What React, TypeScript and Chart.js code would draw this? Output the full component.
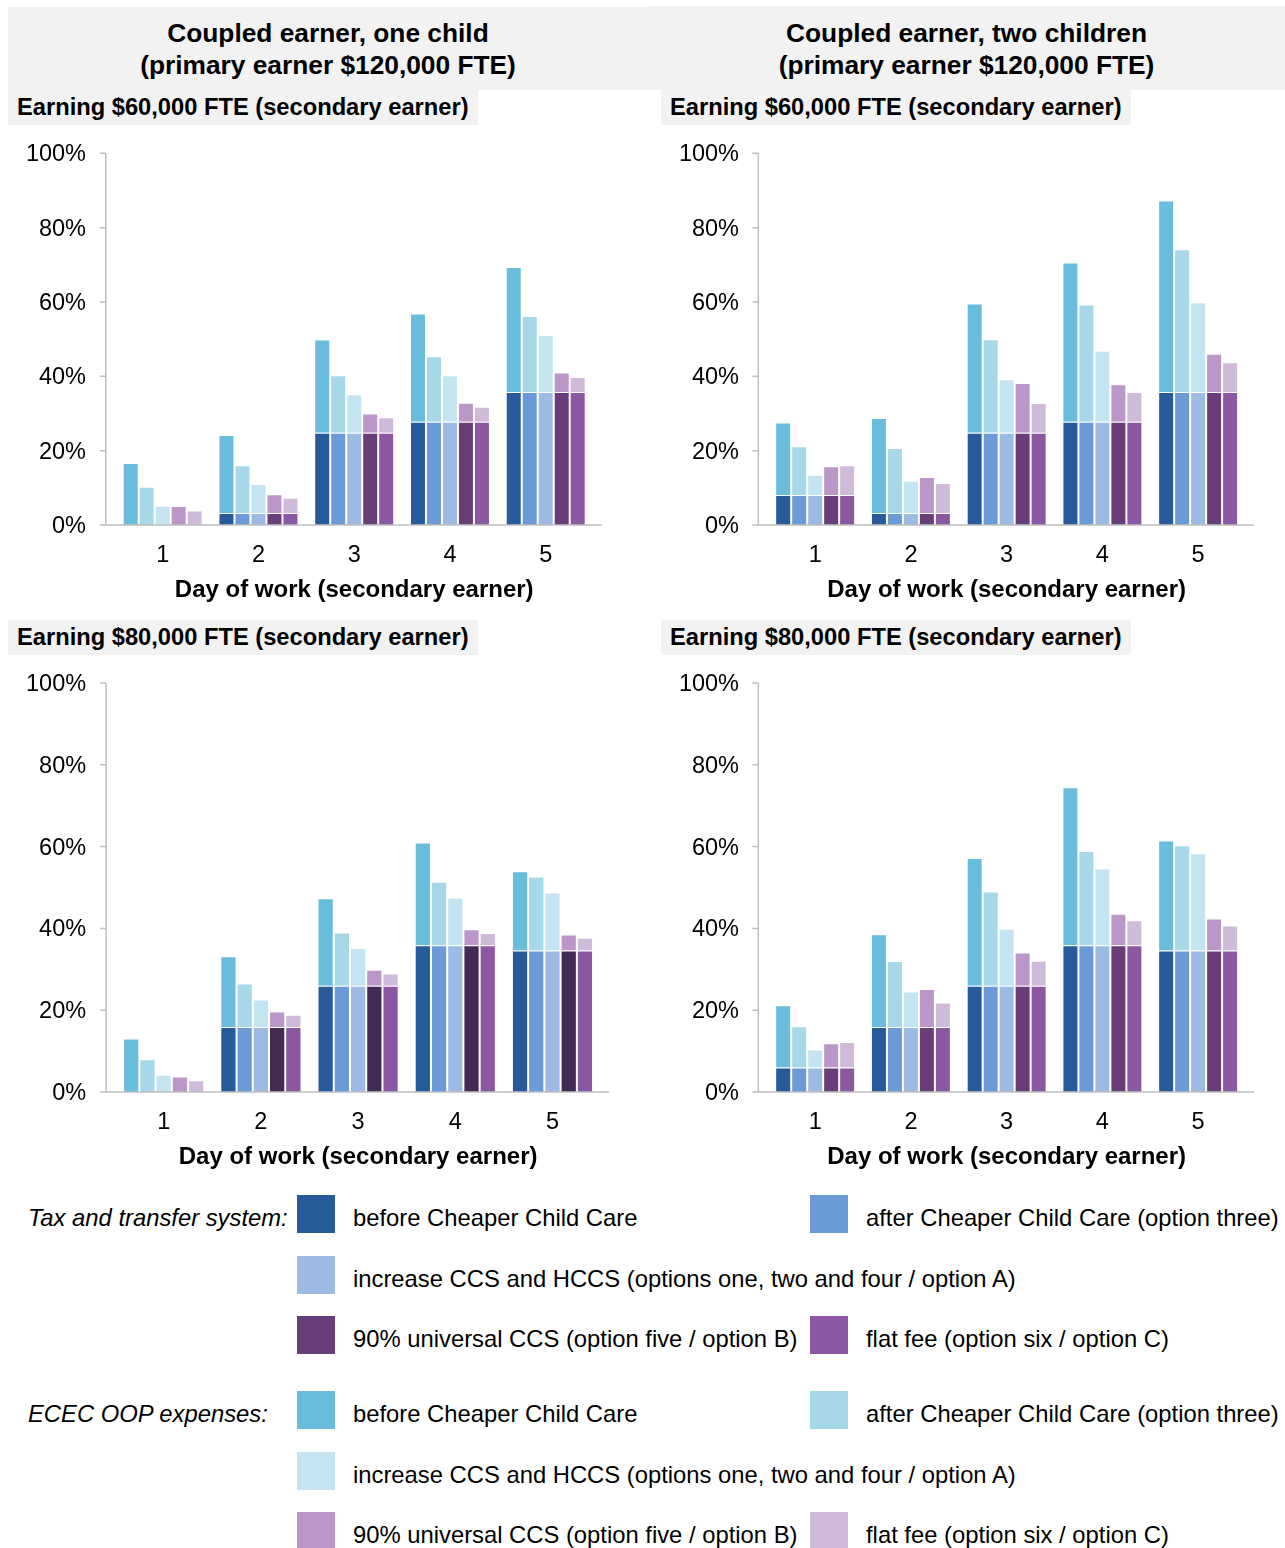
import React, { useEffect, useRef } from "react";
import { Chart, registerables } from "chart.js";

Chart.register(...registerables);

// ---------- data ----------
const days = ["1", "2", "3", "4", "5"];
const yTickValues = [0, 20, 40, 60, 80, 100];

const scenarioNames = [
  "before Cheaper Child Care",
  "after Cheaper Child Care (option three)",
  "increase CCS and HCCS (options one, two and four / option A)",
  "90% universal CCS (option five / option B)",
  "flat fee (option six / option C)",
];

// Panel 1: one child, secondary earner $60,000
const taxOneChild60 = [0, 3.2, 24.8, 27.8, 35.8];
const oopOneChild60Before = [16.7, 21.0, 25.1, 29.1, 33.6];
const oopOneChild60After = [10.3, 12.9, 15.5, 17.6, 20.4];
const oopOneChild60Increase = [5.2, 7.8, 10.4, 12.5, 15.3];
const oopOneChild60Universal = [5.1, 5.1, 5.2, 5.1, 5.2];
const oopOneChild60Flat = [3.9, 4.1, 4.2, 4.0, 4.0];

// Panel 2: two children, secondary earner $60,000
const taxTwoChildren60 = [8.1, 3.2, 24.8, 27.8, 35.8];
const oopTwoChildren60Before = [19.5, 25.6, 34.8, 42.8, 51.5];
const oopTwoChildren60After = [13.1, 17.5, 25.2, 31.5, 38.4];
const oopTwoChildren60Increase = [5.4, 8.7, 14.4, 19.1, 24.1];
const oopTwoChildren60Universal = [7.7, 9.7, 13.4, 10.1, 10.3];
const oopTwoChildren60Flat = [8.0, 8.1, 8.0, 8.0, 8.0];

// Panel 3: one child, secondary earner $80,000
const taxOneChild80 = [0, 15.9, 26.0, 35.9, 34.6];
const oopOneChild80Before = [13.1, 17.3, 21.4, 25.1, 19.4];
const oopOneChild80After = [8.0, 10.6, 13.0, 15.5, 18.1];
const oopOneChild80Increase = [4.2, 6.7, 9.2, 11.6, 14.2];
const oopOneChild80Universal = [3.8, 3.8, 3.9, 3.9, 3.9];
const oopOneChild80Flat = [2.9, 3.0, 3.0, 3.0, 3.1];

// Panel 4: two children, secondary earner $80,000
const taxTwoChildren80 = [6.0, 15.9, 26.0, 35.9, 34.6];
const oopTwoChildren80Before = [15.2, 22.7, 31.2, 38.6, 26.9];
const oopTwoChildren80After = [10.1, 16.1, 23.0, 23.0, 25.7];
const oopTwoChildren80Increase = [4.4, 8.7, 13.9, 18.8, 23.8];
const oopTwoChildren80Universal = [5.9, 9.3, 8.1, 7.7, 7.8];
const oopTwoChildren80Flat = [6.2, 6.0, 6.1, 6.1, 6.1];

// ---------- styles ----------
const FONT = '"Liberation Sans", Arial, Helvetica, sans-serif';
const taxColors = ["#265A9A", "#6A9BD8", "#9CBAE4", "#673D7A", "#8B56A2"];
const taxColorsDark = ["#265A9A", "#6A9BD8", "#9CBAE4", "#432A52", "#8B56A2"];
const oopColors = ["#68BDDC", "#A6D8EA", "#C3E4F0", "#BB96C8", "#D0BADA"];
const HEADER_BG = "#F2F2F2";
const AXIS_COLOR = "#BFBFBF";

const axisLinesPlugin = {
  id: "axisLines",
  afterDatasetsDraw(chart: any) {
    const { ctx, chartArea, scales } = chart;
    const y = scales.y;
    const ax = chartArea.left - 9;
    ctx.save();
    ctx.strokeStyle = AXIS_COLOR;
    ctx.lineWidth = 1.5;
    ctx.beginPath();
    ctx.moveTo(ax, y.getPixelForValue(100));
    ctx.lineTo(ax, chartArea.bottom);
    y.ticks.forEach((t: any) => {
      const py = y.getPixelForValue(t.value);
      ctx.moveTo(ax - 6, py);
      ctx.lineTo(ax, py);
    });
    ctx.moveTo(ax - 6, chartArea.bottom);
    ctx.lineTo(chartArea.right + 8, chartArea.bottom);
    ctx.stroke();
    ctx.restore();
  },
};

type PanelProps = {
  left: number;
  top: number;
  width: number;
  height: number;
  padTop: number;
  padRight: number;
  yWidth: number;
  tickPad: number;
  tax: number[];
  oop: number[][];
  tColors: string[];
};

function Panel(p: PanelProps) {
  const ref = useRef<HTMLCanvasElement>(null);
  useEffect(() => {
    if (!ref.current) return;
    const datasets: any[] = [];
    for (let i = 0; i < 5; i++) {
      datasets.push({
        label: "Tax and transfer system: " + scenarioNames[i],
        data: p.tax,
        backgroundColor: p.tColors[i],
        borderColor: "rgba(255,255,255,0.35)",
        borderWidth: 1,
        stack: "s" + i,
        categoryPercentage: 0.835,
        barPercentage: 1,
      });
      datasets.push({
        label: "ECEC OOP expenses: " + scenarioNames[i],
        data: p.oop[i],
        backgroundColor: oopColors[i],
        borderColor: "rgba(255,255,255,0.35)",
        borderWidth: 1,
        stack: "s" + i,
        categoryPercentage: 0.835,
        barPercentage: 1,
      });
    }
    const chart = new Chart(ref.current, {
      type: "bar",
      data: { labels: days, datasets },
      options: {
        animation: false,
        responsive: false,
        maintainAspectRatio: false,
        layout: { padding: { top: p.padTop, right: p.padRight, left: 0, bottom: 0 } },
        plugins: { legend: { display: false }, tooltip: { enabled: false } },
        scales: {
          x: {
            stacked: true,
            grid: { display: false, drawTicks: true, tickLength: 16.6 },
            border: { display: false },
            ticks: { color: "#000", font: { family: FONT, size: 23.5 }, padding: 0 },
            title: {
              display: true,
              text: "Day of work (secondary earner)",
              color: "#000",
              font: { family: FONT, size: 24, weight: "bold" },
              padding: { top: 0, bottom: 8.4 },
            },
            afterFit(s: any) {
              s.height = 88;
            },
          },
          y: {
            stacked: true,
            min: 0,
            max: 100,
            grid: { display: false, drawTicks: true, tickLength: p.tickPad },
            border: { display: false },
            ticks: {
              stepSize: 20,
              color: "#000",
              font: { family: FONT, size: 23.5 },
              padding: 0,
              labelOffset: 1.5,
              callback: (v: any) => (yTickValues.includes(Number(v)) ? v + "%" : ""),
            },
            afterFit(s: any) {
              s.width = p.yWidth;
            },
          },
        },
      } as any,
      plugins: [axisLinesPlugin],
    });
    return () => chart.destroy();
  }, []);
  return (
    <div style={{ position: "absolute", left: p.left, top: p.top, width: p.width, height: p.height }}>
      <canvas ref={ref} width={p.width} height={p.height} style={{ width: p.width, height: p.height }} />
    </div>
  );
}

function SubTitle({ left, top, text }: { left: number; top: number; text: string }) {
  return (
    <div
      style={{
        position: "absolute",
        left,
        top,
        width: 470,
        height: 35,
        background: HEADER_BG,
        fontFamily: FONT,
        fontWeight: "bold",
        fontSize: 23.7,
        lineHeight: "35px",
        paddingLeft: 9,
        boxSizing: "border-box",
        color: "#000",
        whiteSpace: "nowrap",
      }}
    >
      {text}
    </div>
  );
}

function Title({ left, width, top, height, lines }: { left: number; width: number; top: number; height: number; lines: string[] }) {
  return (
    <div
      style={{
        position: "absolute",
        left,
        top,
        width,
        height,
        background: HEADER_BG,
        fontFamily: FONT,
        fontWeight: "bold",
        fontSize: 26.3,
        lineHeight: "32px",
        textAlign: "center",
        paddingTop: 10 + (7 - top),
        boxSizing: "border-box",
        color: "#000",
      }}
    >
      {lines.map((l, i) => (
        <div key={i}>{l}</div>
      ))}
    </div>
  );
}

const legendRowTops = [1195, 1256, 1316, 1391, 1452, 1512];

function Swatch({ x, y, color, text }: { x: number; y: number; color: string; text: string }) {
  return (
    <>
      <div style={{ position: "absolute", left: x, top: y, width: 38, height: 38, background: color }} />
      <div
        style={{
          position: "absolute",
          left: x + 56,
          top: y + 11,
          fontFamily: FONT,
          fontSize: 23.8,
          lineHeight: "24px",
          whiteSpace: "nowrap",
          color: "#000",
        }}
      >
        {text}
      </div>
    </>
  );
}

function GroupLabel({ y, text }: { y: number; text: string }) {
  return (
    <div
      style={{
        position: "absolute",
        left: 28,
        top: y + 11,
        fontFamily: FONT,
        fontSize: 23.8,
        lineHeight: "24px",
        fontStyle: "italic",
        whiteSpace: "nowrap",
        color: "#000",
      }}
    >
      {text}
    </div>
  );
}

export default function App() {
  const col1 = 297;
  const col2 = 810;
  return (
    <div style={{ position: "absolute", left: 0, top: 0, width: 1285, height: 1548, background: "#fff", overflow: "hidden" }}>
      <Title left={8} width={640} top={7} height={83} lines={["Coupled earner, one child", "(primary earner $120,000 FTE)"]} />
      <Title left={648} width={637} top={6} height={84} lines={["Coupled earner, two children", "(primary earner $120,000 FTE)"]} />
      <SubTitle left={8} top={90} text="Earning $60,000 FTE (secondary earner)" />
      <SubTitle left={661} top={90} text="Earning $60,000 FTE (secondary earner)" />
      <SubTitle left={8} top={620} text="Earning $80,000 FTE (secondary earner)" />
      <SubTitle left={661} top={620} text="Earning $80,000 FTE (secondary earner)" />

      <Panel
        left={0}
        top={130}
        width={640}
        height={483}
        padTop={23.3}
        padRight={46.4}
        yWidth={114.8}
        tickPad={28.8}
        tax={taxOneChild60}
        oop={[oopOneChild60Before, oopOneChild60After, oopOneChild60Increase, oopOneChild60Universal, oopOneChild60Flat]}
        tColors={taxColors}
      />
      <Panel
        left={648}
        top={130}
        width={637}
        height={483}
        padTop={23.3}
        padRight={39}
        yWidth={119.3}
        tickPad={28.3}
        tax={taxTwoChildren60}
        oop={[oopTwoChildren60Before, oopTwoChildren60After, oopTwoChildren60Increase, oopTwoChildren60Universal, oopTwoChildren60Flat]}
        tColors={taxColors}
      />
      <Panel
        left={0}
        top={660}
        width={640}
        height={520}
        padTop={23}
        padRight={38.9}
        yWidth={115.1}
        tickPad={29}
        tax={taxOneChild80}
        oop={[oopOneChild80Before, oopOneChild80After, oopOneChild80Increase, oopOneChild80Universal, oopOneChild80Flat]}
        tColors={taxColorsDark}
      />
      <Panel
        left={648}
        top={660}
        width={637}
        height={520}
        padTop={23}
        padRight={39}
        yWidth={119.3}
        tickPad={28.3}
        tax={taxTwoChildren80}
        oop={[oopTwoChildren80Before, oopTwoChildren80After, oopTwoChildren80Increase, oopTwoChildren80Universal, oopTwoChildren80Flat]}
        tColors={taxColors}
      />

      <GroupLabel y={legendRowTops[0]} text="Tax and transfer system:" />
      <Swatch x={col1} y={legendRowTops[0]} color={taxColors[0]} text={scenarioNames[0]} />
      <Swatch x={col2} y={legendRowTops[0]} color={taxColors[1]} text={scenarioNames[1]} />
      <Swatch x={col1} y={legendRowTops[1]} color={taxColors[2]} text={scenarioNames[2]} />
      <Swatch x={col1} y={legendRowTops[2]} color={taxColors[3]} text={scenarioNames[3]} />
      <Swatch x={col2} y={legendRowTops[2]} color={taxColors[4]} text={scenarioNames[4]} />

      <GroupLabel y={legendRowTops[3]} text="ECEC OOP expenses:" />
      <Swatch x={col1} y={legendRowTops[3]} color={oopColors[0]} text={scenarioNames[0]} />
      <Swatch x={col2} y={legendRowTops[3]} color={oopColors[1]} text={scenarioNames[1]} />
      <Swatch x={col1} y={legendRowTops[4]} color={oopColors[2]} text={scenarioNames[2]} />
      <Swatch x={col1} y={legendRowTops[5]} color={oopColors[3]} text={scenarioNames[3]} />
      <Swatch x={col2} y={legendRowTops[5]} color={oopColors[4]} text={scenarioNames[4]} />
    </div>
  );
}
